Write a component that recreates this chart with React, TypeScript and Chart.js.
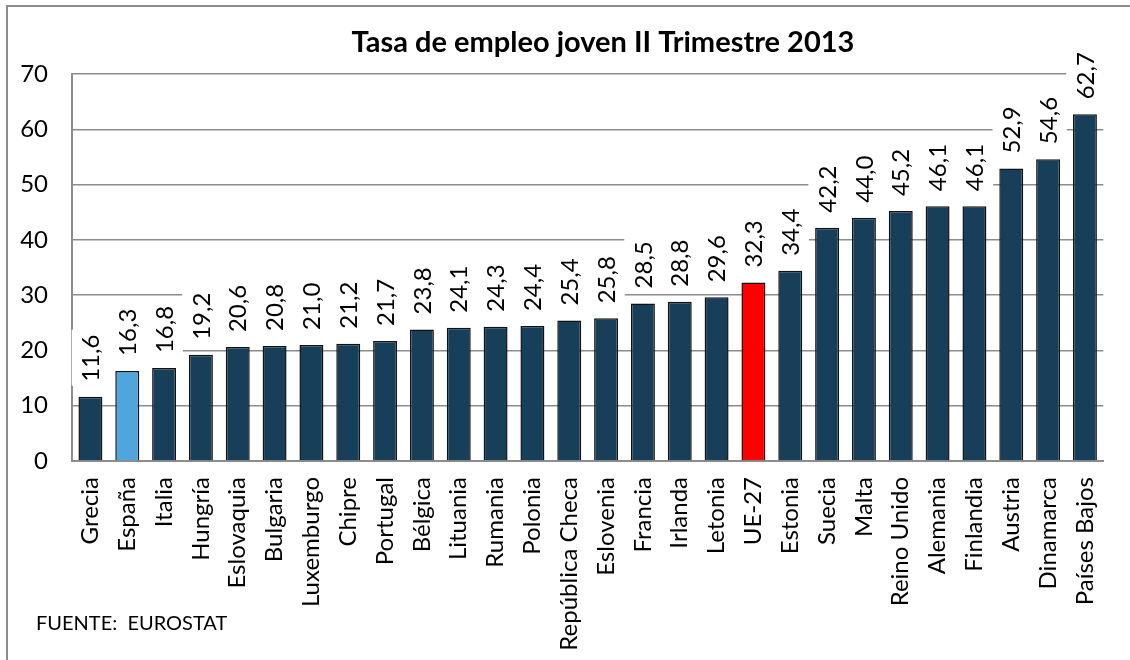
import React, { useEffect, useRef } from "react";
import { Chart, registerables } from "chart.js";

Chart.register(...registerables);

const TITLE = "Tasa de empleo joven II Trimestre 2013";
const SOURCE = "FUENTE:  EUROSTAT";

const categories = [
  "Grecia", "España", "Italia", "Hungría", "Eslovaquia", "Bulgaria", "Luxemburgo",
  "Chipre", "Portugal", "Bélgica", "Lituania", "Rumania", "Polonia", "República Checa",
  "Eslovenia", "Francia", "Irlanda", "Letonia", "UE-27", "Estonia", "Suecia", "Malta",
  "Reino Unido", "Alemania", "Finlandia", "Austria", "Dinamarca", "Países Bajos",
];

const values = [
  11.6, 16.3, 16.8, 19.2, 20.6, 20.8, 21.0, 21.2, 21.7, 23.8, 24.1, 24.3, 24.4, 25.4,
  25.8, 28.5, 28.8, 29.6, 32.3, 34.4, 42.2, 44.0, 45.2, 46.1, 46.1, 52.9, 54.6, 62.7,
];

const yTicks = [0, 10, 20, 30, 40, 50, 60, 70];

const BASE = "#173f5a";
const SPAIN = "#4ea6dc";
const EU = "#ff0000";
const FONT = "Lato, 'Open Sans', sans-serif";

const fmt = (v: number) => v.toFixed(1).replace(".", ",");

const decorPlugin = {
  id: "decor",
  beforeDraw(chart: any) {
    const ctx = chart.ctx;
    ctx.save();
    ctx.fillStyle = "#ffffff";
    ctx.fillRect(0, 0, chart.width, chart.height);
    ctx.strokeStyle = "#8c8c8c";
    ctx.lineWidth = 2;
    ctx.strokeRect(7, 6, chart.width + 10, chart.height + 10);
    ctx.fillStyle = "#000";
    ctx.font = `bold 29px ${FONT}`;
    ctx.textAlign = "center";
    ctx.textBaseline = "alphabetic";
    ctx.fillText(TITLE, 603, 52);
    ctx.font = `20px ${FONT}`;
    ctx.textAlign = "left";
    ctx.fillText(SOURCE, 36, 630);
    ctx.restore();
  },
  afterDatasetsDraw(chart: any) {
    const ctx = chart.ctx;
    const meta = chart.getDatasetMeta(0);
    ctx.save();
    ctx.font = `24px ${FONT}`;
    meta.data.forEach((bar: any, i: number) => {
      const txt = fmt(values[i]);
      const w = ctx.measureText(txt).width;
      const x = bar.x;
      const y0 = bar.y - 15;
      ctx.fillStyle = "#ffffff";
      ctx.fillRect(x - 18.7, y0 - w - 5, 37.4, w + 9);
      ctx.save();
      ctx.translate(x, y0);
      ctx.rotate(-Math.PI / 2);
      ctx.fillStyle = "#000";
      ctx.textAlign = "left";
      ctx.textBaseline = "middle";
      ctx.fillText(txt, 0, 1);
      ctx.restore();
    });
    ctx.restore();
  },
};

export default function App() {
  const ref = useRef<HTMLCanvasElement>(null);
  useEffect(() => {
    if (!ref.current) return;
    const colors = categories.map((c) => (c === "España" ? SPAIN : c === "UE-27" ? EU : BASE));
    const chart = new Chart(ref.current, {
      type: "bar",
      data: {
        labels: categories,
        datasets: [
          {
            data: values,
            backgroundColor: colors,
            borderColor: "#111111",
            borderWidth: 1.5,
            barPercentage: 0.65,
            categoryPercentage: 1,
          },
        ],
      },
      options: {
        responsive: false,
        animation: false,
        devicePixelRatio: 1,
        layout: { padding: { left: 0, right: 15, top: 74, bottom: 0 } },
        plugins: { legend: { display: false }, tooltip: { enabled: false }, title: { display: false } },
        scales: {
          x: {
            grid: { display: false, drawTicks: false },
            border: { display: true, color: "#8c8c8c", width: 2 },
            ticks: {
              minRotation: 90,
              maxRotation: 90,
              autoSkip: false,
              padding: 16,
              color: "#000",
              font: { family: FONT, size: 24 },
            },
            afterFit: (s: any) => {
              s.height = 199;
            },
          },
          y: {
            min: 0,
            max: 70,
            afterBuildTicks: (s: any) => {
              s.ticks = yTicks.map((v) => ({ value: v }));
            },
            grid: { color: "#8c8c8c", lineWidth: 1.5, drawTicks: false },
            border: { display: true, color: "#8c8c8c", width: 2 },
            ticks: {
              padding: 24,
              color: "#000",
              font: { family: FONT, size: 24 },
            },
            afterFit: (s: any) => {
              s.width = 72;
            },
          },
        },
      },
      plugins: [decorPlugin],
    });
    return () => chart.destroy();
  }, []);
  return (
    <canvas
      ref={ref}
      width={1130}
      height={660}
      style={{ position: "fixed", left: 0, top: 0, width: 1130, height: 660 }}
    />
  );
}
